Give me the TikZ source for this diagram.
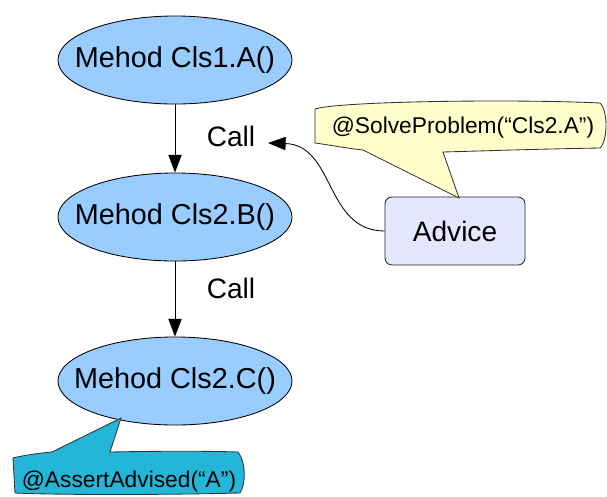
\documentclass[tikz,border=0pt]{standalone}
\usepackage{fontspec}
\setmainfont{Liberation Sans}
\usetikzlibrary{shapes,arrows.meta,positioning,calc}

\definecolor{methodblue}{RGB}{153,204,255}
\definecolor{advicefill}{RGB}{230,230,255}
\definecolor{noteyellow}{RGB}{255,255,204}
\definecolor{noteteal}{RGB}{36,182,216}

\tikzset{
  method/.style={ellipse, draw=black, line width=0.6pt, fill=methodblue,
    minimum width=5.85cm, minimum height=2.2cm, inner sep=0pt,
    font=\fontsize{20.5}{24}\selectfont},
  calllabel/.style={inner sep=0pt, font=\fontsize{20}{24}\selectfont},
  advicebox/.style={rectangle, rounded corners=5pt, draw=black!85, line width=0.6pt,
    fill=advicefill, minimum width=3.5cm, minimum height=1.7cm,
    font=\fontsize{20}{24}\selectfont},
  notetext/.style={inner sep=0pt, anchor=base, font=\fontsize{16.2}{19}\selectfont},
  callout/.style={draw=black!80, line width=0.6pt},
  callarrow/.style={-{Triangle[length=4.4mm,width=3.3mm]}, line width=0.6pt},
}

\begin{document}
\begin{tikzpicture}[x=0.025cm, y=-0.025cm]
    \useasboundingbox (0,0) rectangle (607,496);

    \node[method] (clsA) at (175,60) {\makebox[0pt]{Mehod Cls1.A()}};
    \node[method] (clsB) at (175,217) {\makebox[0pt]{Mehod Cls2.B()}};
    \node[method] (clsC) at (175,381) {\makebox[0pt]{Mehod Cls2.C()}};

    \node[calllabel] (call1) at (231,136) {Call};
    \node[calllabel] (call2) at (231,288) {Call};

    \node[advicebox] (advice) at (455,231) {Advice};
    \coordinate (callin) at (268,143);

    \draw[callarrow] (clsA.south) -- (clsB.north);
    \draw[callarrow] (clsB.south) -- (clsC.north);
    \draw[callarrow] (advice.west) .. controls (325,231) and (335,145) .. (callin);

    % speech bubbles
    \filldraw[callout, fill=noteyellow] (315,109) .. controls (340,101) and (520,99) .. (600,103)
      .. controls (608,110) and (608,141) .. (600,148)
      .. controls (540,149) and (480,151) .. (443,152) -- (459,198) -- (363,150)
      .. controls (345,148) and (330,145) .. (315,143) -- cycle;
    \node[notetext] (solvenote) at (463,133) {@SolveProblem(“Cls2.A”)};

    \filldraw[callout, fill=noteteal] (13,458) .. controls (25,455) and (40,453) .. (52,452)
      -- (121,418) -- (110,452)
      .. controls (160,451) and (210,451) .. (238,452)
      .. controls (246,462) and (246,484) .. (240,493)
      .. controls (160,495) and (60,495) .. (15,493) -- cycle;
    \node[notetext] (assertnote) at (129,487) {@AssertAdvised(“A”)};
\end{tikzpicture}
\end{document}
